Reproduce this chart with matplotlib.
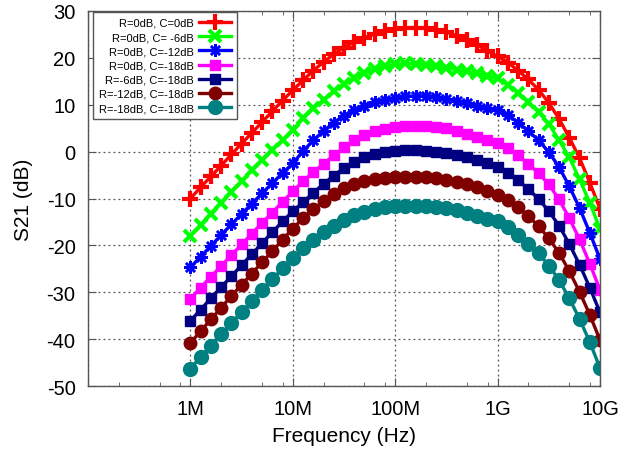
import numpy as np
import matplotlib
matplotlib.use("Agg")
import matplotlib.pyplot as plt
from matplotlib.ticker import FixedLocator, FixedFormatter, NullFormatter

plt.rcParams['font.family'] = ['Liberation Sans', 'DejaVu Sans']
plt.rcParams['axes.unicode_minus'] = False

# sweep: 10 points per decade, 1 MHz .. 10 GHz
freq = np.logspace(6, 10, 41)

s21_r0_c0 = [-10.0, -7.6, -5.3, -3.0, -0.6, 1.7, 4.0, 6.3, 8.6, 10.9, 13.1,
             15.2, 17.3, 19.1, 20.8, 22.2, 23.4, 24.3, 25.1, 25.7, 26.1,
             26.3, 26.4, 26.4, 26.0, 25.5, 24.7, 23.8, 22.8, 21.5, 20.3,
             19.0, 17.3, 15.4, 13.2, 10.4, 7.0, 3.0, -1.4, -6.6, -12.2]
s21_r0_c6 = [-18.0, -15.6, -13.2, -10.9, -8.6, -6.3, -4.0, -1.8, 0.4, 2.5, 4.6,
             7.1, 9.2, 11.1, 12.9, 14.4, 15.7, 16.8, 17.6, 18.2, 18.6,
             18.8, 18.7, 18.5, 18.2, 17.9, 17.5, 17.1, 16.7, 16.2, 15.6,
             14.2, 12.5, 10.6, 8.4, 5.9, 2.4, -1.2, -5.9, -10.9, -16.5]
s21_r0_c12 = [-24.7, -22.4, -20.1, -17.8, -15.5, -13.3, -11.1, -8.9, -6.7, -4.6, -2.5,
              0.1, 2.4, 4.4, 6.2, 7.7, 8.8, 9.8, 10.6, 11.1, 11.5,
              11.8, 11.9, 11.9, 11.7, 11.2, 10.8, 10.3, 9.8, 9.3, 8.8,
              7.8, 6.2, 4.4, 2.4, -0.1, -3.3, -7.4, -12.0, -17.3, -22.9]
s21_r0_c18 = [-31.4, -29.0, -26.7, -24.4, -22.1, -19.8, -17.5, -15.2, -13.0, -10.7, -8.5,
              -6.3, -4.4, -2.6, -0.8, 0.9, 2.4, 3.6, 4.4, 4.9, 5.2,
              5.4, 5.5, 5.5, 5.3, 5.0, 4.5, 3.8, 3.1, 2.4, 1.8,
              0.8, -0.8, -2.6, -4.6, -7.0, -10.2, -14.2, -18.7, -23.9, -29.5]
s21_r6_c18 = [-36.1, -33.7, -31.3, -28.9, -26.6, -24.2, -21.9, -19.5, -17.2, -14.9, -12.7,
              -10.8, -8.8, -6.9, -5.1, -3.5, -2.2, -1.2, -0.5, -0.1, 0.2,
              0.3, 0.3, 0.2, 0.0, -0.3, -0.7, -1.2, -1.8, -2.5, -3.2,
              -4.5, -6.1, -8.0, -10.1, -12.7, -15.8, -19.7, -24.1, -29.0, -34.3]
s21_r12_c18 = [-40.8, -38.3, -35.8, -33.3, -30.8, -28.4, -26.0, -23.6, -21.2, -18.8, -16.4,
               -14.2, -12.3, -10.6, -9.1, -7.8, -6.9, -6.3, -5.9, -5.6, -5.5,
               -5.4, -5.4, -5.5, -5.7, -6.0, -6.4, -7.0, -7.6, -8.4, -9.2,
               -10.3, -11.9, -13.8, -15.9, -18.5, -21.6, -25.5, -29.9, -34.8, -40.2]
s21_r18_c18 = [-46.3, -43.8, -41.4, -39.0, -36.6, -34.2, -31.8, -29.5, -27.2, -24.9, -22.6,
               -20.6, -18.8, -17.2, -15.8, -14.6, -13.6, -12.8, -12.2, -11.8, -11.6,
               -11.5, -11.5, -11.6, -11.8, -12.1, -12.5, -13.1, -13.7, -14.3, -14.9,
               -16.1, -17.7, -19.6, -21.7, -24.3, -27.4, -31.3, -35.7, -40.6, -46.2]

labels = ['R=0dB, C=0dB', 'R=0dB, C= -6dB', 'R=0dB, C=-12dB', 'R=0dB, C=-18dB',
          'R=-6dB, C=-18dB', 'R=-12dB, C=-18dB', 'R=-18dB, C=-18dB']
series = [s21_r0_c0, s21_r0_c6, s21_r0_c12, s21_r0_c18,
          s21_r6_c18, s21_r12_c18, s21_r18_c18]

xtick_pos = [1e5, 1e6, 1e7, 1e8, 1e9, 1e10]
xtick_lab = ['', '1M', '10M', '100M', '1G', '10G']

colors = ['#ff0000', '#00ff00', '#0000ff', '#ff00ff', '#000080', '#800000', '#008080']
# marker, size, edge width
styles = [('+', 12, 3.0), ('x', 8, 3.0), ((8, 2, 0), 9, 1.8), ('s', 7.5, 1),
          ('s', 7, 1), ('o', 9, 1), ('o', 10, 1)]

fig = plt.figure(figsize=(6.18, 4.56), dpi=100)
ax = fig.add_axes([0.1424, 0.1513, 0.8285, 0.8224])

for y, lab, c, (m, ms, mew) in zip(series, labels, colors, styles):
    ax.plot(freq, y, '-', color=c, lw=2.4, marker=m, ms=ms, mew=mew,
            mec=c, mfc=c, label=lab)

ax.set_xscale('log')
ax.set_xlim(1e5, 1e10)
ax.set_ylim(-50, 30)
ax.xaxis.set_major_locator(FixedLocator(xtick_pos))
ax.xaxis.set_major_formatter(FixedFormatter(xtick_lab))
minors = [m * 10.0 ** k for k in range(5, 10) for m in (2, 5, 8)]
ax.xaxis.set_minor_locator(FixedLocator(minors))
ax.xaxis.set_minor_formatter(NullFormatter())
ax.set_yticks(np.arange(-50, 31, 10))

ax.grid(True, which='major', linestyle=(0, (1.5, 2.5)), color='#555555', lw=0.9)
ax.tick_params(which='both', direction='in', top=True, right=True,
               color='#555555', labelsize=14.5)
ax.tick_params(which='major', length=6, pad=9)
ax.tick_params(which='minor', length=3)
for sp in ax.spines.values():
    sp.set_color('#555555')
    sp.set_linewidth(1.0)

ax.set_xlabel('Frequency (Hz)', fontsize=15, labelpad=6)
ax.set_ylabel('S21 (dB)', fontsize=15, labelpad=10)

leg = ax.legend(loc='upper left', bbox_to_anchor=(0.01, 0.998), markerfirst=False,
                fontsize=8, handlelength=2.9, handletextpad=0.4, labelspacing=0.38,
                borderpad=0.55, borderaxespad=0.0, fancybox=False, framealpha=1,
                edgecolor='#555555')
leg.get_frame().set_linewidth(1.0)
for t in leg.get_texts():
    t.set_ha('right')

fig.savefig('out.png', dpi=100)
